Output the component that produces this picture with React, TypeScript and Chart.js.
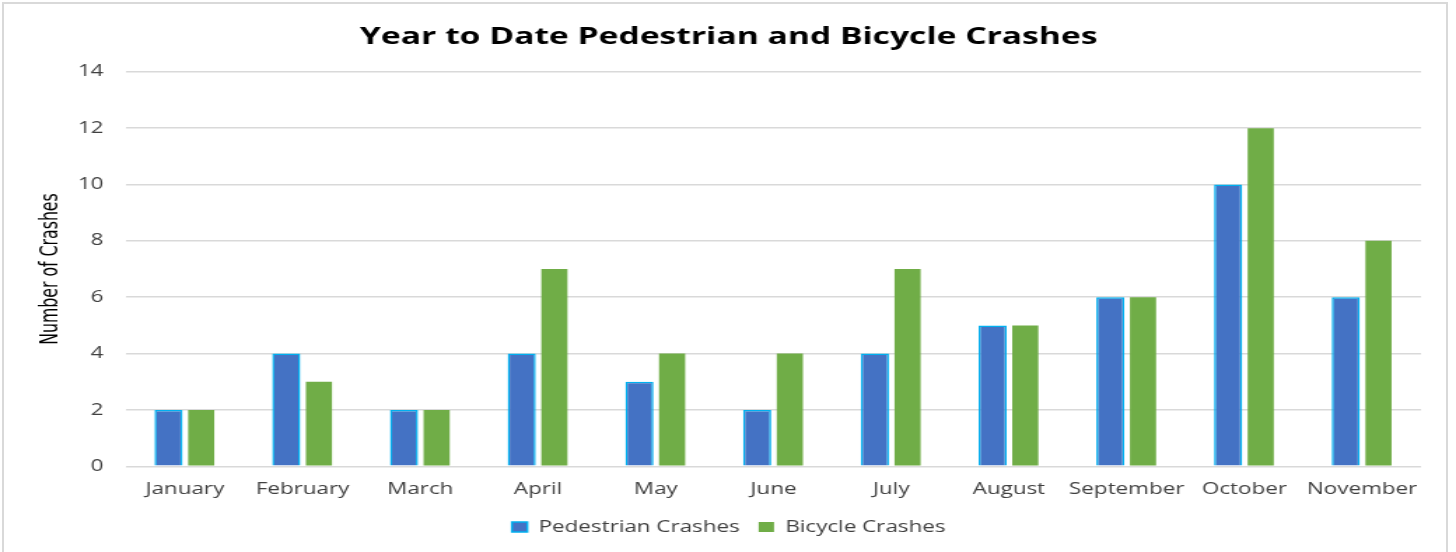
import React, { useEffect, useRef } from "react";
import { Chart, registerables } from "chart.js";

Chart.register(...registerables);

const months = ["January", "February", "March", "April", "May", "June", "July", "August", "September", "October", "November"];
const pedestrian = [2, 4, 2, 4, 3, 2, 4, 5, 6, 10, 6];
const bicycle = [2, 3, 2, 7, 4, 4, 7, 5, 6, 12, 8];
const yTicks = [0, 2, 4, 6, 8, 10, 12, 14];

const INNER_W = 1040;
const STRETCH = 1456 / INNER_W;
const FONT = "'Open Sans', sans-serif";

export default function App() {
  const ref = useRef<HTMLCanvasElement | null>(null);
  useEffect(() => {
    if (!ref.current) return;
    const chart = new Chart(ref.current, {
      type: "bar",
      data: {
        labels: months,
        datasets: [
          {
            label: "Pedestrian Crashes",
            data: pedestrian,
            backgroundColor: "#4472C4",
            borderColor: "#00B0F0",
            borderWidth: 1.5,
            categoryPercentage: 0.555,
            barPercentage: 0.86,
          },
          {
            label: "Bicycle Crashes",
            data: bicycle,
            backgroundColor: "#70AD47",
            borderColor: "#70AD47",
            borderWidth: 0,
            categoryPercentage: 0.555,
            barPercentage: 0.8,
          },
        ],
      },
      options: {
        animation: false,
        responsive: false,
        maintainAspectRatio: false,
        layout: { padding: { left: 26, right: 25, top: 10, bottom: 7 } },
        plugins: {
          title: {
            display: true,
            text: "Year to Date Pedestrian and Bicycle Crashes",
            color: "#000",
            font: { family: FONT, size: 24, weight: "bold" },
            padding: { top: 13, bottom: 20 },
          },
          legend: {
            position: "bottom",
            labels: {
              color: "#404040",
              font: { family: FONT, size: 16 },
              boxWidth: 11,
              boxHeight: 10,
              padding: 13.5,
            },
          },
          tooltip: { enabled: false },
        },
        scales: {
          x: {
            grid: { display: false },
            border: { display: false },
            ticks: { color: "#404040", font: { family: FONT, size: 16 }, padding: 6, maxRotation: 0, minRotation: 0, autoSkip: false },
          },
          y: {
            min: 0,
            max: 14,
            afterBuildTicks: (axis: any) => {
              axis.ticks = yTicks.map((v) => ({ value: v }));
            },
            afterFit: (axis: any) => {
              axis.width = 64;
            },
            grid: { color: "#D9D9D9", lineWidth: 1.5, drawTicks: false },
            border: { display: false },
            title: {
              display: true,
              text: "Number of Crashes",
              color: "#000",
              font: { family: "'DejaVu Sans Condensed', 'Liberation Sans Narrow', sans-serif", size: 17.5 },
              padding: 0,
            },
            ticks: { color: "#404040", font: { family: FONT, size: 16 }, padding: 16 },
          },
        },
      },
    });
    return () => chart.destroy();
  }, []);
  return (
    <div style={{ position: "fixed", left: 0, top: 0, width: 1456, height: 552, background: "#fff", overflow: "hidden" }}>
      <div style={{ position: "absolute", left: 2, top: 2, width: 1446, height: 560, border: "2px solid #D9D9D9", boxSizing: "border-box" }} />
      <div style={{ position: "absolute", left: 0, top: 0, width: INNER_W, height: 552, transform: `scaleX(${STRETCH})`, transformOrigin: "0 0" }}>
        <canvas ref={ref} width={INNER_W} height={552} style={{ display: "block" }} />
      </div>
    </div>
  );
}
